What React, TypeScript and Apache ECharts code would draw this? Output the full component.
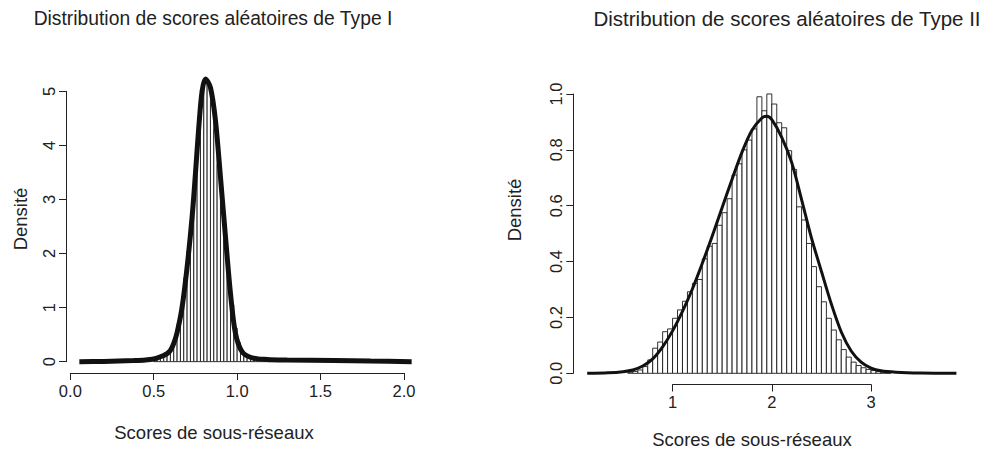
import React, { useEffect, useRef } from "react";
import * as echarts from "echarts";

// ---- Type I : histogram (bin width 0.02, first bin starts at 0.50) ----
const typeIBinStart = 0.5;
const typeIBinWidth = 0.02;
const typeIHeights = [
  0.07, 0.09, 0.12, 0.16, 0.2, 0.27, 0.42, 0.7, 1.05, 1.55, 2.05, 2.6, 3.3, 4.1,
  4.85, 5.15, 5.15, 4.8, 4.3, 3.65, 2.95, 2.25, 1.6, 1.05, 0.62, 0.35, 0.2, 0.13,
  0.09, 0.07, 0.05, 0.04, 0.03, 0.02, 0.015,
];
// ---- Type I : density curve ----
const typeICurveX = [
  0.054, 0.2, 0.38, 0.45, 0.5, 0.54, 0.58, 0.6, 0.62, 0.64, 0.67, 0.7, 0.73,
  0.75, 0.77, 0.79, 0.81, 0.84, 0.87, 0.9, 0.93, 0.96, 0.99, 1.03, 1.09, 1.18,
  1.3, 1.58, 1.8, 2.046,
];
const typeICurveY = [
  0.0, 0.005, 0.02, 0.03, 0.05, 0.09, 0.15, 0.21, 0.34, 0.54, 1.01, 1.75, 2.68,
  3.48, 4.34, 5.01, 5.23, 5.07, 4.46, 3.41, 2.31, 1.26, 0.52, 0.18, 0.07, 0.04,
  0.03, 0.02, 0.01, 0.0,
];

// ---- Type II : histogram (bin width 0.05, first bin starts at 0.55) ----
const typeIIBinStart = 0.55;
const typeIIBinWidth = 0.05;
const typeIIHeights = [
  0.004, 0.007, 0.012, 0.024, 0.048, 0.09, 0.112, 0.149, 0.159, 0.197, 0.227,
  0.258, 0.292, 0.322, 0.336, 0.41, 0.455, 0.465, 0.53, 0.575, 0.625, 0.71,
  0.75, 0.8, 0.835, 0.875, 0.99, 0.94, 1.0, 0.964, 0.897, 0.879, 0.797, 0.73,
  0.596, 0.549, 0.465, 0.382, 0.31, 0.256, 0.197, 0.155, 0.12, 0.085, 0.058,
  0.04, 0.028, 0.02, 0.014, 0.01, 0.006, 0.004, 0.002,
];
// ---- Type II : density curve ----
const typeIICurveX = [
  0.14, 0.35, 0.5, 0.6, 0.7, 0.8, 0.9, 1.0, 1.1, 1.2, 1.3, 1.4, 1.5, 1.6, 1.7,
  1.8, 1.9, 1.95, 2.0, 2.1, 2.2, 2.3, 2.4, 2.5, 2.6, 2.7, 2.8, 2.9, 3.0, 3.1,
  3.25, 3.5, 3.86,
];
const typeIICurveY = [
  0.0, 0.002, 0.006, 0.012, 0.026, 0.052, 0.095, 0.152, 0.222, 0.302, 0.394,
  0.492, 0.594, 0.695, 0.792, 0.87, 0.914, 0.92, 0.908, 0.845, 0.755, 0.622,
  0.484, 0.365, 0.248, 0.148, 0.08, 0.04, 0.019, 0.009, 0.004, 0.001, 0.0,
];

// ---- axis ticks: [first, last, step] ----
const typeIXTicks = [0, 2, 0.5];
const typeIYTicks = [0, 5, 1];
const typeIIXTicks = [1, 3, 1];
const typeIIYTicks = [0, 1, 0.2];

const titleI = "Distribution de scores aléatoires de Type I";
const titleII = "Distribution de scores aléatoires de Type II";
const xName = "Scores de sous-réseaux";
const yName = "Densité";

const FONT = "'Liberation Sans', Arial, Helvetica, sans-serif";
const INK = "#222";

type Panel = {
  left: number;
  right: number;
  top: number;
  bottom: number;
  xMin: number;
  xMax: number;
  yMin: number;
  yMax: number;
};

const panelI: Panel = { left: 66, right: 425, top: 67, bottom: 373, xMin: -0.026, xMax: 2.126, yMin: -0.21, yMax: 5.45 };
const panelII: Panel = { left: 573.3, right: 971.3, top: 82.8, bottom: 384.5, xMin: 0, xMax: 4.01, yMin: -0.04, yMax: 1.04 };

const px = (p: Panel, v: number) => p.left + ((v - p.xMin) / (p.xMax - p.xMin)) * (p.right - p.left);
const py = (p: Panel, v: number) => p.bottom - ((v - p.yMin) / (p.yMax - p.yMin)) * (p.bottom - p.top);

function binRows(start: number, width: number, heights: number[]) {
  return heights.map((h, i) => [start + i * width, start + (i + 1) * width, h]);
}

function zip(xs: number[], ys: number[]) {
  return xs.map((x, i) => [x, ys[i]]);
}

const barRender = (params: any, api: any) => {
  const a = api.coord([api.value(0), 0]);
  const b = api.coord([api.value(1), api.value(2)]);
  return {
    type: "rect",
    shape: { x: a[0], y: b[1], width: b[0] - a[0], height: a[1] - b[1] },
    style: { fill: "#fff", stroke: "#1a1a1a", lineWidth: 0.9 },
  };
};

function buildOption() {
  const grids: any[] = [];
  const xAxes: any[] = [];
  const yAxes: any[] = [];
  const series: any[] = [];

  const hidden = (min: number, max: number, gridIndex: number) => ({
    type: "value",
    gridIndex,
    min,
    max,
    show: false,
    splitLine: { show: false },
  });

  const axisStyle = (fmt: (v: number) => string, rotate: number, margin: number) => ({
    show: true,
    axisLine: { show: true, lineStyle: { color: INK, width: 1 } },
    axisTick: { show: true, length: 7, lineStyle: { color: INK, width: 1 } },
    axisLabel: { show: true, color: INK, fontSize: 16.5, fontFamily: FONT, formatter: fmt, rotate, margin },
    splitLine: { show: false },
  });

  const addPanel = (
    p: Panel,
    xt: number[],
    yt: number[],
    xFmt: (v: number) => string,
    yFmt: (v: number) => string,
    bars: number[][],
    curve: number[][],
    curveWidth: number
  ) => {
    const g0 = grids.length;
    // data grid covering the whole plotting region
    grids.push({ left: p.left, top: p.top, width: p.right - p.left, height: p.bottom - p.top });
    xAxes.push(hidden(p.xMin, p.xMax, g0));
    yAxes.push(hidden(p.yMin, p.yMax, g0));
    // bottom axis spanning first to last tick
    grids.push({ left: px(p, xt[0]), width: px(p, xt[1]) - px(p, xt[0]), top: p.top, height: p.bottom - p.top });
    xAxes.push({ type: "value", gridIndex: g0 + 1, min: xt[0], max: xt[1], interval: xt[2], position: "bottom", ...axisStyle(xFmt, 0, 9) });
    yAxes.push(hidden(0, 1, g0 + 1));
    // left axis spanning first to last tick
    grids.push({ left: p.left, width: p.right - p.left, top: py(p, yt[1]), height: py(p, yt[0]) - py(p, yt[1]) });
    xAxes.push(hidden(0, 1, g0 + 2));
    yAxes.push({ type: "value", gridIndex: g0 + 2, min: yt[0], max: yt[1], interval: yt[2], position: "left", ...axisStyle(yFmt, 90, 9) });

    series.push({
      type: "custom",
      xAxisIndex: g0,
      yAxisIndex: g0,
      renderItem: barRender,
      encode: { x: [0, 1], y: 2 },
      data: bars,
      z: 2,
      silent: true,
    });
    series.push({
      type: "line",
      xAxisIndex: g0,
      yAxisIndex: g0,
      data: curve,
      showSymbol: false,
      smooth: 0.3,
      lineStyle: { color: "#111", width: curveWidth },
      z: 3,
      silent: true,
    });
  };

  addPanel(
    panelI,
    typeIXTicks,
    typeIYTicks,
    (v) => v.toFixed(1),
    (v) => String(Math.round(v)),
    binRows(typeIBinStart, typeIBinWidth, typeIHeights),
    zip(typeICurveX, typeICurveY),
    5
  );
  addPanel(
    panelII,
    typeIIXTicks,
    typeIIYTicks,
    (v) => String(Math.round(v)),
    (v) => v.toFixed(1),
    binRows(typeIIBinStart, typeIIBinWidth, typeIIHeights),
    zip(typeIICurveX, typeIICurveY),
    3
  );

  const txt = (text: string, x: number, y: number, rot = 0, size = 18) => ({
    type: "text",
    x,
    y,
    rotation: rot,
    silent: true,
    style: { text, fill: INK, fontSize: size, fontFamily: FONT, textAlign: "center", textVerticalAlign: "middle" },
  });

  return {
    animation: false,
    backgroundColor: "#fff",
    grid: grids,
    xAxis: xAxes,
    yAxis: yAxes,
    series,
    graphic: [
      txt(titleI, 213, 18, 0, 19.3),
      txt(titleII, 787, 18, 0, 20.5),
      txt(xName, 214, 432, 0, 18.5),
      txt(xName, 752, 439, 0, 18.5),
      txt(yName, 20, 219, Math.PI / 2, 18.5),
      txt(yName, 514, 210, Math.PI / 2, 18.5),
    ],
  };
}

export default function App() {
  const ref = useRef<HTMLDivElement>(null);
  useEffect(() => {
    if (!ref.current) return;
    const chart = echarts.init(ref.current, undefined, { renderer: "svg" });
    chart.setOption(buildOption());
    return () => chart.dispose();
  }, []);
  return <div ref={ref} style={{ position: "fixed", left: 0, top: 0, width: 994, height: 450 }} />;
}
